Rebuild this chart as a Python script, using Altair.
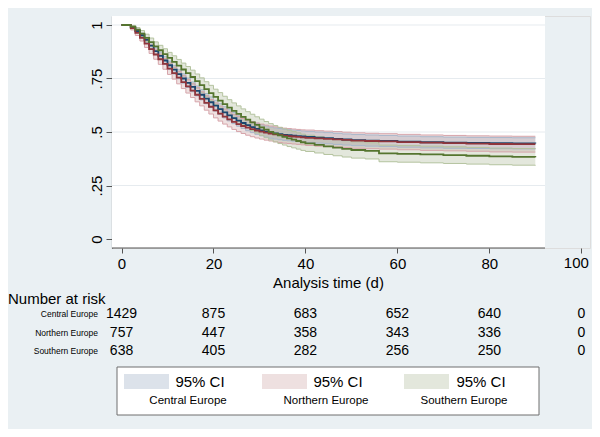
import altair as alt
import pandas as pd

# ---------------- data ----------------
series_names = ["Central Europe", "Northern Europe", "Southern Europe"]

days = list(range(0, 41)) + [42, 44, 46, 48, 50, 53, 56, 60, 65, 70, 75, 80, 85, 90]

surv_central = [1.0, 1.0, 0.99, 0.972, 0.952, 0.93, 0.904, 0.878, 0.856, 0.834,
                0.812, 0.791, 0.77, 0.75, 0.73, 0.711, 0.692, 0.674, 0.656, 0.639,
                0.623, 0.607, 0.592, 0.578, 0.565, 0.553, 0.542, 0.532, 0.523, 0.515,
                0.508, 0.502, 0.497, 0.493, 0.49, 0.487, 0.485, 0.483, 0.481, 0.479,
                0.477,
                0.474, 0.471, 0.468, 0.465, 0.462, 0.46, 0.458, 0.455, 0.452, 0.45, 0.449, 0.448, 0.447, 0.446]
surv_northern = [1.0, 1.0, 0.985, 0.963, 0.94, 0.913, 0.887, 0.862, 0.84, 0.818,
                 0.796, 0.775, 0.754, 0.733, 0.713, 0.693, 0.674, 0.655, 0.636, 0.618,
                 0.601, 0.586, 0.572, 0.559, 0.547, 0.537, 0.528, 0.52, 0.513, 0.507,
                 0.502, 0.497, 0.493, 0.489, 0.486, 0.483, 0.481, 0.479, 0.477, 0.475,
                 0.473,
                 0.47, 0.468, 0.466, 0.463, 0.46, 0.458, 0.456, 0.453, 0.45, 0.448, 0.446, 0.444, 0.443, 0.443]
surv_southern = [1.0, 1.0, 0.992, 0.978, 0.96, 0.94, 0.92, 0.9, 0.882, 0.864,
                 0.846, 0.828, 0.81, 0.792, 0.775, 0.757, 0.738, 0.719, 0.7, 0.682,
                 0.664, 0.647, 0.63, 0.614, 0.599, 0.585, 0.571, 0.558, 0.545, 0.533,
                 0.522, 0.511, 0.501, 0.492, 0.484, 0.477, 0.47, 0.464, 0.458, 0.452,
                 0.447,
                 0.44, 0.433, 0.427, 0.421, 0.416, 0.412, 0.40, 0.398, 0.395, 0.392, 0.389, 0.386, 0.384, 0.382]

# half-widths of the 95% CI bands
ci_central = [0, 0, 0.005, 0.008, 0.01, 0.012, 0.014, 0.016, 0.017, 0.018,
              0.019, 0.02, 0.021, 0.022, 0.022, 0.023, 0.023, 0.024, 0.024, 0.025,
              0.025, 0.025, 0.026, 0.026, 0.026, 0.026, 0.026, 0.026, 0.026, 0.026,
              0.026, 0.026, 0.026, 0.026, 0.026, 0.026, 0.026, 0.026, 0.026, 0.026,
              0.026,
              0.026, 0.026, 0.026, 0.026, 0.026, 0.026, 0.026, 0.026, 0.026, 0.026, 0.026, 0.026, 0.026, 0.026]
ci_northern = [0, 0, 0.008, 0.012, 0.015, 0.018, 0.02, 0.022, 0.024, 0.025,
               0.027, 0.028, 0.029, 0.03, 0.031, 0.032, 0.033, 0.033, 0.034, 0.034,
               0.035, 0.035, 0.035, 0.035, 0.035, 0.035, 0.035, 0.035, 0.035, 0.035,
               0.035, 0.035, 0.035, 0.035, 0.035, 0.035, 0.035, 0.035, 0.035, 0.035,
               0.036,
               0.036, 0.036, 0.036, 0.036, 0.036, 0.036, 0.036, 0.036, 0.036, 0.036, 0.036, 0.037, 0.037, 0.037]
ci_southern = [0, 0, 0.006, 0.01, 0.014, 0.017, 0.019, 0.021, 0.023, 0.025,
               0.026, 0.028, 0.029, 0.03, 0.031, 0.032, 0.033, 0.034, 0.035, 0.036,
               0.036, 0.037, 0.037, 0.037, 0.037, 0.037, 0.037, 0.037, 0.038, 0.038,
               0.038, 0.038, 0.038, 0.038, 0.038, 0.038, 0.038, 0.038, 0.038, 0.038,
               0.038,
               0.038, 0.038, 0.038, 0.038, 0.038, 0.038, 0.039, 0.039, 0.039, 0.039, 0.039, 0.039, 0.039, 0.039]

risk_days = [0, 20, 40, 60, 80, 100]
risk_central = [1429, 875, 683, 652, 640, 0]
risk_northern = [757, 447, 358, 343, 336, 0]
risk_southern = [638, 405, 282, 256, 250, 0]

y_ticks = [0, 0.25, 0.5, 0.75, 1]
x_ticks = [0, 20, 40, 60, 80, 100]
x_last_tick = [100]
grid_levels = [0.25, 0.5, 0.75, 1]

# ---------------- styles ----------------
FONT = "Liberation Sans"
BG = "#eaf0f3"
line_colors = ["#1a476f", "#90353b", "#55752f"]
band_fill = ["#8a9eb9", "#c69898", "#a2af8a"]
band_edge = ["#a8b6ca", "#d6a4aa", "#b4c39f"]

rows = []
for name, s, h in zip(series_names,
                      [surv_central, surv_northern, surv_southern],
                      [ci_central, ci_northern, ci_southern]):
    for d, v, w in zip(days, s, h):
        rows.append({"series": name, "day": d, "surv": v, "lo": v - w, "hi": v + w})
km = pd.DataFrame(rows)

xscale = alt.Scale(domain=[-2.07, 101.89], nice=False, zero=False)
yscale = alt.Scale(domain=[-0.042, 1.042], nice=False, zero=False)

x_axis = alt.Axis(values=x_ticks, grid=False, domain=False, tickSize=5, tickColor="#555555",
                  labelFontSize=15, labelPadding=3, labelColor="#000000", labelFont=FONT,
                  labelExpr="datum.value == 100 ? '' : datum.label",
                  title="Analysis time (d)", titleFontSize=15, titleFontWeight="normal",
                  titleFont=FONT, titleColor="#000000", titleX=216, titleY=34,
                  titleBaseline="middle", titleAlign="center")
y_axis = alt.Axis(values=y_ticks, grid=False, domain=True, domainColor="#555555", domainWidth=1.2,
                  tickSize=6, tickColor="#555555", labelAngle=270, labelAlign="center",
                  labelBaseline="bottom", labelPadding=2, labelFontSize=15, labelFont=FONT,
                  labelColor="#000000",
                  labelExpr="datum.value == 0 ? '0' : datum.value == 1 ? '1' : replace(format(datum.value, '~g'), '0.', '.')",
                  title=None)

W, H = 478, 232
PLOT_R = 433  # right edge of the white plot region (px)

plot_bg = alt.Chart(pd.DataFrame({"a": [0]})).mark_rect(fill="white").encode(
    x=alt.value(0), x2=alt.value(PLOT_R), y=alt.value(0), y2=alt.value(H))

grid = alt.Chart(pd.DataFrame({"v": grid_levels})).mark_rule(color="#e6ebef", strokeWidth=1).encode(
    x=alt.value(0), x2=alt.value(PLOT_R), y=alt.Y("v:Q", scale=yscale, axis=y_axis))

base = alt.Chart(km)

bands = base.mark_area(interpolate="step-after", fillOpacity=0.3).encode(
    x=alt.X("day:Q", scale=xscale, axis=x_axis),
    y=alt.Y("lo:Q", scale=yscale, axis=y_axis),
    y2="hi:Q",
    fill=alt.Fill("series:N", scale=alt.Scale(domain=series_names, range=band_fill), legend=None),
    detail="series:N")

edge_lo = base.mark_line(interpolate="step-after", strokeWidth=1).encode(
    x=alt.X("day:Q", scale=xscale),
    y=alt.Y("lo:Q", scale=yscale),
    stroke=alt.Stroke("series:N", scale=alt.Scale(domain=series_names, range=band_edge), legend=None))
edge_hi = base.mark_line(interpolate="step-after", strokeWidth=1).encode(
    x=alt.X("day:Q", scale=xscale),
    y=alt.Y("hi:Q", scale=yscale),
    stroke=alt.Stroke("series:N", scale=alt.Scale(domain=series_names, range=band_edge), legend=None))

lines = base.mark_line(interpolate="step-after", strokeWidth=1.8).encode(
    x=alt.X("day:Q", scale=xscale),
    y=alt.Y("surv:Q", scale=yscale),
    color=alt.Color("series:N", scale=alt.Scale(domain=series_names, range=line_colors), legend=None))

x_line = alt.Chart(pd.DataFrame({"a": [0]})).mark_rule(color="#555555", strokeWidth=1.2).encode(
    x=alt.value(0), x2=alt.value(PLOT_R), y=alt.value(H))

# last x tick label, nudged so it stays inside the canvas
last_label = alt.Chart(pd.DataFrame({"d": x_last_tick})).mark_text(
    align="center", baseline="top", fontSize=15, font=FONT, color="#000000", dx=-5).encode(
    x=alt.X("d:Q", scale=xscale), y=alt.value(H + 8), text="d:Q")

# ---------------- number at risk table ----------------
layers = [plot_bg, grid, bands, edge_lo, edge_hi, lines, x_line, last_label]

layers.append(alt.Chart(pd.DataFrame({"t": ["Number at risk"]})).mark_text(
    align="left", baseline="middle", fontSize=15, font=FONT, color="#000000").encode(
    x=alt.value(-104), y=alt.value(283), text="t:N"))

row_y = [298, 316.5, 335]
for name, counts, ry in zip(series_names, [risk_central, risk_northern, risk_southern], row_y):
    layers.append(alt.Chart(pd.DataFrame({"t": [name]})).mark_text(
        align="right", baseline="middle", fontSize=8.5, font=FONT, color="#000000").encode(
        x=alt.value(-14), y=alt.value(ry), text="t:N"))
    layers.append(alt.Chart(pd.DataFrame({"day": risk_days, "n": counts})).mark_text(
        align="center", baseline="middle", fontSize=14, font=FONT, color="#000000").encode(
        x=alt.X("day:Q", scale=xscale), y=alt.value(ry), text="n:Q"))

# ---------------- legend ----------------
layers.append(alt.Chart(pd.DataFrame({"a": [0]})).mark_rect(
    fill="white", stroke="#6e6e6e", strokeWidth=1).encode(
    x=alt.value(5), x2=alt.value(427), y=alt.value(351), y2=alt.value(399)))

sw_x = [12, 150, 292]
ci_x = [88, 226, 369]
lab_x = [76, 214, 352]
for i, name in enumerate(series_names):
    layers.append(alt.Chart(pd.DataFrame({"a": [0]})).mark_rect(
        fill=band_fill[i], fillOpacity=0.3).encode(
        x=alt.value(sw_x[i]), x2=alt.value(sw_x[i] + 45), y=alt.value(358), y2=alt.value(373)))
    layers.append(alt.Chart(pd.DataFrame({"t": ["95% CI"]})).mark_text(
        align="center", baseline="middle", fontSize=15, font=FONT, color="#000000").encode(
        x=alt.value(ci_x[i]), y=alt.value(365.5), text="t:N"))
    layers.append(alt.Chart(pd.DataFrame({"t": [name]})).mark_text(
        align="center", baseline="middle", fontSize=11.5, font=FONT, color="#000000").encode(
        x=alt.value(lab_x[i]), y=alt.value(385), text="t:N"))

chart = alt.layer(*layers).properties(
    width=W, height=H, autosize="none",
    padding={"left": 104, "top": 8, "right": 2, "bottom": 181},
    background=BG,
).configure_view(stroke=None, fill=None).configure(font=FONT)

chart.save("out.html", embed_options={"renderer": "svg", "actions": False})
